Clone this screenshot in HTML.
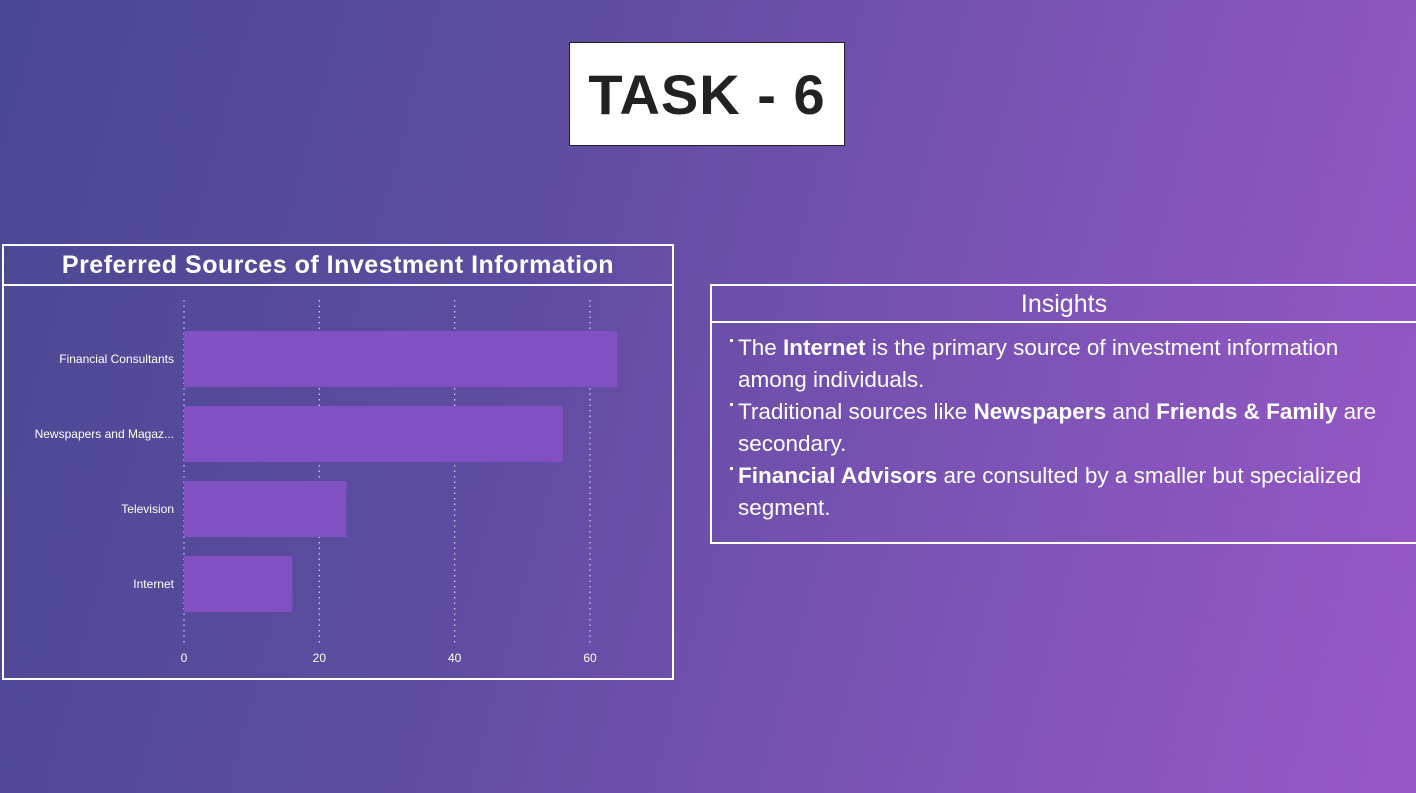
<!DOCTYPE html>
<html><head><meta charset="utf-8"><style>
html,body{margin:0;padding:0}
body{width:1416px;height:793px;overflow:hidden;position:relative;font-family:"Liberation Sans",sans-serif;
background:linear-gradient(105deg,#4a4892 0%,#5d4ca0 35%,#7a52b4 65%,#9858c8 100%);}
.title{position:absolute;left:569px;top:42px;width:276px;height:104px;background:#fff;border:1px solid #222;box-sizing:border-box;
display:flex;align-items:center;justify-content:center;font-weight:bold;font-size:56px;color:#222;letter-spacing:1px}
.panel{position:absolute;border:2px solid #fff;box-sizing:border-box}
.ptitle{position:absolute;left:0;right:0;color:#fff;text-align:center;border-bottom:2px solid #fff}
.ins{position:absolute;left:738px;top:332px;width:670px;color:#fff;font-size:22.5px;line-height:32px}
.ins p{margin:0;position:relative}
.ins p::before{content:"";position:absolute;left:-8px;top:7px;width:3px;height:3px;background:#fff}
</style></head><body>
<div class="title">TASK - 6</div>
<div class="panel" style="left:2px;top:244px;width:672px;height:436px">
 <div class="ptitle" style="top:0;height:38px;line-height:38px;font-size:25px;font-weight:bold;letter-spacing:0.5px">Preferred Sources of Investment Information</div>
</div>
<svg id="chart" width="1416" height="793" style="position:absolute;left:0;top:0"></svg>
<div class="panel" style="left:710px;top:284px;width:712px;height:260px">
 <div class="ptitle" style="top:0;height:37px;line-height:36px;font-size:25px;width:712px;padding-right:8px;box-sizing:border-box">Insights</div>
</div>
<div class="ins">
 <p>The <b>Internet</b> is the primary source of investment information among individuals.</p>
 <p>Traditional sources like <b>Newspapers</b> and <b>Friends &amp; Family</b> are secondary.</p>
 <p><b>Financial Advisors</b> are consulted by a smaller but specialized segment.</p>
</div>
<script>
const categories=["Financial Consultants","Newspapers and Magaz...","Television","Internet"];
const values=[64,56,24,16];
const ticks=[0,20,40,60];
const svg=document.getElementById('chart');
const NS="http://www.w3.org/2000/svg";
const x0=184,pxPer=(590-184)/60,top0=321.5,band=75,barH=56;
const xs=v=>x0+v*pxPer;
const yb=i=>top0+i*band+(band-barH)/2;
function mk(t,a){const e=document.createElementNS(NS,t);for(const k in a)e.setAttribute(k,a[k]);svg.appendChild(e);return e;}
ticks.forEach(t=>{
 const g=mk('line',{x1:xs(t),x2:xs(t),y1:300,y2:645,stroke:'#d8d0ee','stroke-width':1.2,'stroke-dasharray':'1.5 4'});
 
 
 const l=mk('text',{x:xs(t),y:662,'text-anchor':'middle',fill:'#fff','font-size':12,'font-family':'Liberation Sans, sans-serif'});
 l.textContent=t;
 
 
});
categories.forEach((c,i)=>{
 const r=mk('rect',{x:xs(0),y:yb(i),width:xs(values[i])-xs(0),height:barH,fill:'#8150c2'});
 
 
 const l=mk('text',{x:174,y:yb(i)+barH/2+4,'text-anchor':'end',fill:'#fff','font-size':12,'font-family':'Liberation Sans, sans-serif'});
 l.textContent=c;
 
 
});
</script>
</body></html>
